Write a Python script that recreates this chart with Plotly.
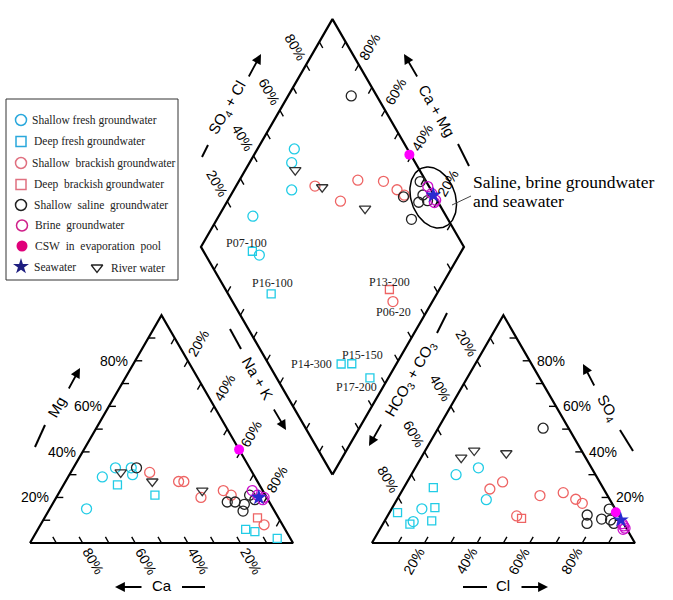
import numpy as np
import plotly.graph_objects as go

# ---------------- data: milliequivalent percentages ----------------
# Shallow fresh groundwater
sfg_ca = [71, 58, 51, 45, 46]
sfg_mg = [15, 29, 33, 33, 30]
sfg_cl = [24, 11.5, 34, 17, 11]
sfg_so4 = [33, 15, 19, 30, 9.4]
# Deep fresh groundwater
dfg_names = ["P07-100", "P16-100", "P14-300", "P15-150", "P17-200"]
dfg_ca = [54, 42, 15, 12, 5]
dfg_mg = [25.5, 21, 6, 5, 2]
dfg_cl = [10.3, 3.1, 17.9, 16.2, 11.2]
dfg_so4 = [8.3, 13.3, 9.7, 15.5, 24.3]
# Shallow brackish groundwater
sbg_names = ["", "", "", "", "", "", "P06-20"]
sbg_ca = [39, 30, 28, 25, 15, 13, 7]
sbg_mg = [31, 27, 27, 20, 23, 21, 8]
sbg_cl = [33.0, 36.3, 53.5, 61.7, 67.9, 71.3, 49.1]
sbg_so4 = [23.7, 26.8, 20.8, 22.1, 19.2, 17.4, 11.9]
# Deep brackish groundwater
dbg_names = ["P13-200"]
dbg_ca = [8]
dbg_mg = [11]
dbg_cl = [51.5]
dbg_so4 = [10.8]
# Shallow saline groundwater
ssg_ca = [43, 16, 12, 10, 6, 13, 5]
ssg_mg = [33, 18, 14, 17, 21, 18, 19]
ssg_cl = [39.9, 75.7, 77.5, 82.1, 85.7, 82.8, 87.7]
ssg_so4 = [50.4, 12.3, 8.6, 10.5, 10.1, 14.9, 8.6]
# River water
rw_ca = [50, 40, 23]
rw_mg = [31, 27, 23]
rw_cl = [15.2, 18.6, 31.4]
rw_so4 = [37.5, 40.6, 39.4]
# Brine groundwater
brg_ca = [4, 3, 2, 1]
brg_mg = [23, 21, 19, 20]
brg_cl = [91, 92, 93, 92.5]
brg_so4 = [8.5, 7.5, 6.5, 6]
# CSW in evaporation pool
csw_ca = [0]
csw_mg = [41]
csw_cl = [86]
csw_so4 = [13.5]
# Seawater
sw_ca = [3]
sw_mg = [20]
sw_cl = [89.6]
sw_so4 = [10.1]

tick_values = [10, 20, 30, 40, 50, 60, 70, 80, 90]
tick_labels = {20: "20%", 40: "40%", 60: "60%", 80: "80%"}

# ---------------- geometry ----------------
S3 = np.sqrt(3) / 2
GAP = 0.3
PX = 263.0          # pixels per unit side
OX, OY = 30.0, 543.0  # pixel of cation triangle bottom-left vertex
W, H = 673, 600


def P(px, py):
    return (px - OX) / PX, (OY - py) / PX


def cation_xy(ca, mg):
    ca = np.asarray(ca, float) / 100
    mg = np.asarray(mg, float) / 100
    na = 1 - ca - mg
    return na + mg / 2, mg * S3


def anion_xy(cl, so4):
    cl = np.asarray(cl, float) / 100
    so4 = np.asarray(so4, float) / 100
    return 1 + GAP + cl + so4 / 2, so4 * S3


def diamond_xy(ca, mg, cl, so4):
    cm = (np.asarray(ca, float) + np.asarray(mg, float)) / 100
    sc = (np.asarray(cl, float) + np.asarray(so4, float)) / 100
    return 1 + GAP / 2 + 0.5 * (sc - cm), GAP * S3 + S3 * (sc + cm)


def dpt(cm, sc):
    return 1 + GAP / 2 + 0.5 * (sc - cm), GAP * S3 + S3 * (sc + cm)


fig = go.Figure()
annotations = []
shapes = []

# ---------------- frames ----------------
fx, fy = [], []
for poly in [
    [(0, 0), (1, 0), (0.5, S3), (0, 0)],
    [(1 + GAP, 0), (2 + GAP, 0), (1.5 + GAP, S3), (1 + GAP, 0)],
    [dpt(0, 0), dpt(1, 0), dpt(1, 1), dpt(0, 1), dpt(0, 0)],
]:
    for x, y in poly:
        fx.append(x)
        fy.append(y)
    fx.append(None)
    fy.append(None)
fig.add_trace(go.Scatter(x=fx, y=fy, mode="lines", line=dict(color="black", width=2.2),
                         hoverinfo="skip", showlegend=False))

# ---------------- ticks and tick labels ----------------
TL = 7 / PX
LO = 21 / PX
tx, ty = [], []
TICKFONT = dict(family="Liberation Sans, Arial", size=14, color="black")


def add_side(pfun, inward, outward, angle, labels=True):
    for t in tick_values:
        v = t / 100
        x0, y0 = pfun(v)
        tx.extend([x0, x0 + inward[0] * TL, None])
        ty.extend([y0, y0 + inward[1] * TL, None])
        if labels and t in tick_labels:
            annotations.append(dict(
                x=x0 + outward[0] * LO, y=y0 + outward[1] * LO, xref="x", yref="y",
                text=tick_labels[t], showarrow=False, textangle=angle,
                xanchor="center", yanchor="middle", font=TICKFONT))


# cation triangle
add_side(lambda v: (1 - v, 0), (-0.5, S3), (0.5, -S3), 60)            # Ca
add_side(lambda v: (0.5 * v, S3 * v), (1, 0), (-1, 0), 0)             # Mg
add_side(lambda v: (0.5 + 0.5 * v, S3 * (1 - v)), (-0.5, -S3), (0.5, S3), -60)  # Na+K
# anion triangle
add_side(lambda v: (1 + GAP + v, 0), (0.5, S3), (-0.5, -S3), -60)    # Cl
add_side(lambda v: (2 + GAP - 0.5 * v, S3 * v), (-1, 0), (1, 0), 0)  # SO4
add_side(lambda v: (1 + GAP + 0.5 * (1 - v), S3 * (1 - v)), (0.5, -S3), (-0.5, S3), 60)  # HCO3
# diamond
add_side(lambda v: dpt(1, v), (0.5, -S3), (-0.5, S3), 60)           # SO4+Cl
add_side(lambda v: dpt(v, 1), (-0.5, -S3), (0.5, S3), -60)          # Ca+Mg
add_side(lambda v: dpt(v, 0), (0.5, S3), (0, 0), 0, labels=False)
add_side(lambda v: dpt(0, v), (-0.5, S3), (0, 0), 0, labels=False)

fig.add_trace(go.Scatter(x=tx, y=ty, mode="lines", line=dict(color="black", width=1.4),
                         hoverinfo="skip", showlegend=False))

# ---------------- axis titles, arrows and dashes ----------------
TITLEFONT = dict(family="Liberation Sans, Arial", size=15, color="black")


def title(px, py, text, angle):
    x, y = P(px, py)
    annotations.append(dict(x=x, y=y, xref="x", yref="y", text=text, showarrow=False,
                            textangle=angle, xanchor="center", yanchor="middle", font=TITLEFONT))


def arrow(tail, head):
    hx, hy = P(*head)
    ax, ay = P(*tail)
    annotations.append(dict(x=hx, y=hy, ax=ax, ay=ay, xref="x", yref="y", axref="x", ayref="y",
                            text="", showarrow=True, arrowhead=2, arrowsize=1.1,
                            arrowwidth=1.8, arrowcolor="black", standoff=0, startstandoff=0))


def dash(a, b):
    x0, y0 = P(*a)
    x1, y1 = P(*b)
    shapes.append(dict(type="line", x0=x0, y0=y0, x1=x1, y1=y1, xref="x", yref="y",
                       line=dict(color="black", width=2)))


# cation
dash((35, 447), (45, 425)); title(56, 407, "Mg", -60); arrow((68, 390), (80, 368))
arrow((143, 587), (115, 587)); title(162, 585, "Ca", 0); dash((182, 587), (205, 587))
dash((230, 329), (241, 349)); title(258, 378, "Na + K", 60); arrow((273, 408), (286, 430))
# anion
dash((447, 313), (437, 333)); title(410, 379, "HCO<sub>3</sub> + CO<sub>3</sub>", -60); arrow((382, 423), (369, 446))
arrow((595, 387), (583, 364)); title(608, 408, "SO<sub>4</sub>", 60); dash((620, 430), (633, 451))
dash((463, 587), (487, 587)); title(503, 585, "Cl", 0); arrow((520, 587), (548, 587))
# diamond
dash((202, 157), (208, 145)); title(227, 108, "SO<sub>4</sub> + Cl", -60); arrow((248, 78), (261, 54))
arrow((418, 78), (404, 54)); title(437, 110, "Ca + Mg", 60); dash((458, 144), (469, 166))

# ---------------- data points ----------------
groups = [
    ("Shallow fresh groundwater", sfg_ca, sfg_mg, sfg_cl, sfg_so4,
     dict(symbol="circle-open", size=10, color="#22CCE6", line=dict(width=1.3))),
    ("Deep fresh groundwater", dfg_ca, dfg_mg, dfg_cl, dfg_so4,
     dict(symbol="square-open", size=8, color="#22CCE6", line=dict(width=1.3))),
    ("Shallow brackish groundwater", sbg_ca, sbg_mg, sbg_cl, sbg_so4,
     dict(symbol="circle-open", size=10, color="#EE6464", line=dict(width=1.3))),
    ("Deep brackish groundwater", dbg_ca, dbg_mg, dbg_cl, dbg_so4,
     dict(symbol="square-open", size=8, color="#EE6464", line=dict(width=1.3))),
    ("Shallow saline groundwater", ssg_ca, ssg_mg, ssg_cl, ssg_so4,
     dict(symbol="circle-open", size=10, color="#222222", line=dict(width=1.3))),
    ("River water", rw_ca, rw_mg, rw_cl, rw_so4,
     dict(symbol="triangle-down-open", size=10, color="#333333", line=dict(width=1.3))),
    ("Brine groundwater", brg_ca, brg_mg, brg_cl, brg_so4,
     dict(symbol="circle-open", size=10, color="#CC11CC", line=dict(width=1.3))),
    ("CSW in evaporation pool", csw_ca, csw_mg, csw_cl, csw_so4,
     dict(symbol="circle", size=10, color="#FF00FF")),
    ("Seawater", sw_ca, sw_mg, sw_cl, sw_so4,
     dict(symbol="star", size=12, color="#2A2AD0")),
]
for name, ca, mg, cl, so4, mk in groups:
    cx, cy = cation_xy(ca, mg)
    ax_, ay_ = anion_xy(cl, so4)
    dx, dy = diamond_xy(ca, mg, cl, so4)
    fig.add_trace(go.Scatter(x=np.concatenate([cx, ax_, dx]), y=np.concatenate([cy, ay_, dy]),
                             mode="markers", marker=mk, name=name, showlegend=False))

# sample labels in the diamond
LABFONT = dict(family="Liberation Serif, Times New Roman", size=12, color="#222222")
lab_shift = {"P07-100": (-6, 8, "center"), "P16-100": (1, 11, "center"),
             "P14-300": (-7, 0, "right"), "P15-150": (11, 9, "center"),
             "P17-200": (-13, -9, "center"), "P13-200": (0, 8, "center"),
             "P06-20": (1, -10, "center")}
for names, ca, mg, cl, so4 in [(dfg_names, dfg_ca, dfg_mg, dfg_cl, dfg_so4),
                               (sbg_names, sbg_ca, sbg_mg, sbg_cl, sbg_so4),
                               (dbg_names, dbg_ca, dbg_mg, dbg_cl, dbg_so4)]:
    dx, dy = diamond_xy(ca, mg, cl, so4)
    for n, x, y in zip(names, dx, dy):
        if not n:
            continue
        xs, ys, anc = lab_shift[n]
        annotations.append(dict(x=x, y=y, xref="x", yref="y", text=n, showarrow=False,
                                xshift=xs, yshift=ys, xanchor=anc, yanchor="middle", font=LABFONT))

# ellipse around saline/brine/seawater cluster
t = np.linspace(0, 2 * np.pi, 120)
ecx, ecy, ea, eb, th = 433.2, 197.5, 31.5, 22.0, np.radians(20)
ex_px = ecx + ea * np.cos(t) * (-np.sin(th)) + eb * np.sin(t) * np.cos(th)
ey_px = ecy + ea * np.cos(t) * (-np.cos(th)) + eb * np.sin(t) * (-np.sin(th))
fig.add_trace(go.Scatter(x=(ex_px - OX) / PX, y=(OY - ey_px) / PX, mode="lines",
                         line=dict(color="black", width=1.5), hoverinfo="skip", showlegend=False))
dash_l = ((452, 205), (471, 196))
x0, y0 = P(*dash_l[0]); x1, y1 = P(*dash_l[1])
shapes.append(dict(type="line", x0=x0, y0=y0, x1=x1, y1=y1, xref="x", yref="y",
                   line=dict(color="#444444", width=1)))
NOTEFONT = dict(family="Liberation Serif, Times New Roman", size=17.5, color="black")
for txt, py in [("Saline, brine groundwater", 182), ("and seawater", 201)]:
    x, y = P(471, py)
    annotations.append(dict(x=x, y=y, xref="x", yref="y", text=txt, showarrow=False,
                            xanchor="left", yanchor="middle", font=NOTEFONT))

# ---------------- legend box ----------------
bx0, by0 = P(6, 99)
bx1, by1 = P(178, 280)
shapes.append(dict(type="rect", x0=bx0, y0=by1, x1=bx1, y1=by0, xref="x", yref="y",
                   line=dict(color="#333333", width=1), fillcolor="white", layer="below"))
LEGFONT = dict(family="Liberation Serif, Times New Roman", size=11.5, color="#222222")
legend_rows = [
    (21, 120, 30, "Shallow fresh groundwater", dict(symbol="circle-open", size=11, color="#2AA8DC", line=dict(width=1.5))),
    (21, 141.5, 32, "Deep fresh groundwater", dict(symbol="square-open", size=10, color="#2AA8DC", line=dict(width=1.5))),
    (21, 163, 30, "Shallow  brackish groundwater", dict(symbol="circle-open", size=11, color="#E07080", line=dict(width=1.5))),
    (21, 184.5, 32, "Deep  brackish groundwater", dict(symbol="square-open", size=10, color="#E07080", line=dict(width=1.5))),
    (21, 205, 32, "Shallow  saline  groundwater", dict(symbol="circle-open", size=11, color="#222222", line=dict(width=1.5))),
    (22, 225.5, 33, "Brine  groundwater", dict(symbol="circle-open", size=11, color="#D0208A", line=dict(width=1.5))),
    (22, 246, 33, "CSW  in  evaporation  pool", dict(symbol="circle", size=11, color="#E0007A")),
    (21, 266.5, 32, "Seawater", dict(symbol="star", size=12, color="#1E1E80")),
    (97, 267.5, 109, "River water", dict(symbol="triangle-down-open", size=10, color="#222222", line=dict(width=1.3))),
]
for mx, my, txx, txt, mk in legend_rows:
    x, y = P(mx, my)
    fig.add_trace(go.Scatter(x=[x], y=[y], mode="markers", marker=mk, hoverinfo="skip", showlegend=False))
    x, y = P(txx, my)
    annotations.append(dict(x=x, y=y, xref="x", yref="y", text=txt.replace("  ", "&nbsp; "),
                            showarrow=False, xanchor="left", yanchor="middle", font=LEGFONT))

fig.update_layout(
    width=W, height=H, margin=dict(l=0, r=0, t=0, b=0),
    paper_bgcolor="white", plot_bgcolor="white",
    xaxis=dict(range=[-OX / PX, (W - OX) / PX], visible=False, fixedrange=True),
    yaxis=dict(range=[(OY - H) / PX, OY / PX], visible=False, fixedrange=True),
    annotations=annotations, shapes=shapes, showlegend=False,
)
fig.write_html("out.html", config={"displayModeBar": False},
               post_script="document.body.style.margin='0px';document.body.style.overflow='hidden';")
